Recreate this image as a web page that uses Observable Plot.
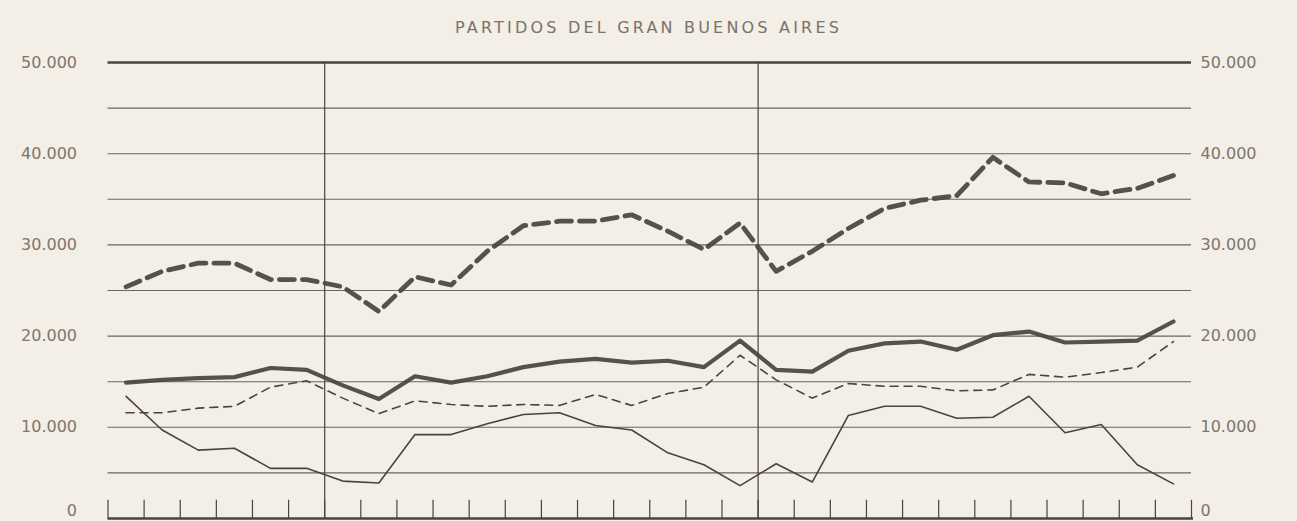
<!DOCTYPE html>
<html>
<head>
<meta charset="utf-8">
<script src="https://cdn.jsdelivr.net/npm/d3@7"></script>
<script src="https://cdn.jsdelivr.net/npm/@observablehq/plot@0.6"></script>
<style>
  html, body { margin: 0; padding: 0; background: #f3eee6; }
  #title {
    height: 20px; padding-top: 20px; line-height: 16px;
    text-align: center; font-family: "DejaVu Sans", sans-serif; font-size: 16px;
    letter-spacing: 3.2px; color: #7a726b;
  }
  #chart svg { background: #f3eee6; display: block; }
</style>
</head>
<body>
<div id="title">PARTIDOS DEL GRAN BUENOS AIRES</div>
<div id="chart"></div>
<script>
// period index (one per interval of the bottom scale)
const periods = [0,1,2,3,4,5,6,7,8,9,10,11,12,13,14,15,16,17,18,19,20,21,22,23,24,25,26,27,28,29];
// series values
const seriesThickDashed = [25400,27100,28000,28000,26200,26200,25400,22700,26500,25600,29300,32100,32600,32600,33300,31500,29500,32400,27100,29300,31800,34000,34900,35400,39600,36900,36800,35600,36200,37600];
const seriesThickSolid  = [14900,15200,15400,15500,16500,16300,14600,13100,15600,14900,15600,16600,17200,17500,17100,17300,16600,19500,16300,16100,18400,19200,19400,18500,20100,20500,19300,19400,19500,21600];
const seriesThinDashed  = [11600,11600,12100,12300,14400,15100,13200,11500,12900,12500,12300,12500,12400,13600,12400,13700,14400,17900,15200,13200,14800,14500,14500,14000,14100,15800,15500,16000,16600,19400];
const seriesThinSolid   = [13400,9700,7500,7700,5500,5500,4100,3900,9200,9200,10400,11400,11600,10200,9700,7200,5900,3600,6000,4000,11300,12300,12300,11000,11100,13400,9400,10300,5900,3800];
// axis ticks
const yLabelTicks = [10000,20000,30000,40000,50000];
const yZeroTick = [0];
const yGrid = [5000,10000,15000,20000,25000,30000,35000,40000,45000];
const xTicks = [0,1,2,3,4,5,6,7,8,9,10,11,12,13,14,15,16,17,18,19,20,21,22,23,24,25,26,27,28,29,30];
const xDividers = [6,18];

const ink = "#4a433e";
const textCol = "#7d756e";
const fmt = d => d === 0 ? "0" : d3.format(",")(d).replace(",", ".");

const mk = arr => periods.map((p, i) => ({x: p + 0.5, y: arr[i]}));

const chart = Plot.plot({
  width: 1297,
  height: 481,
  marginTop: 22,
  marginBottom: 3,
  marginLeft: 107.5,
  marginRight: 106,
  style: {fontFamily: "DejaVu Sans, sans-serif", fontSize: "16px", background: "#f3eee6"},
  x: {domain: [0, 30], axis: null},
  y: {domain: [0, 50000], axis: null},
  marks: [
    Plot.ruleY(yGrid, {stroke: ink, strokeWidth: 1.1, strokeOpacity: 0.8}),
    Plot.ruleY([50000], {stroke: ink, strokeWidth: 2.6}),
    Plot.ruleY([0], {stroke: ink, strokeWidth: 2.6, insetRight: -2}),
    Plot.ruleX(xTicks, {y1: 0, y2: 2000, stroke: ink, strokeWidth: 1.2}),
    Plot.ruleX(xDividers, {y1: 0, y2: 50000, stroke: ink, strokeWidth: 1.2}),
    Plot.line(mk(seriesThinSolid), {x: "x", y: "y", stroke: ink, strokeWidth: 1.6}),
    Plot.line(mk(seriesThinDashed), {x: "x", y: "y", stroke: ink, strokeWidth: 1.6, strokeDasharray: "8,6"}),
    Plot.line(mk(seriesThickSolid), {x: "x", y: "y", stroke: ink, strokeWidth: 4.2, strokeOpacity: 0.92}),
    Plot.line(mk(seriesThickDashed), {x: "x", y: "y", stroke: ink, strokeWidth: 4.8, strokeDasharray: "15,8", strokeOpacity: 0.92}),
    Plot.axisY(yLabelTicks, {anchor: "left", label: null, tickSize: 0, tickPadding: 31, tickFormat: fmt, fill: textCol, fontSize: 16}),
    Plot.axisY(yLabelTicks, {anchor: "right", label: null, tickSize: 0, tickPadding: 9, tickFormat: fmt, fill: textCol, fontSize: 16}),
    Plot.axisY(yZeroTick, {anchor: "left", label: null, tickSize: 0, tickPadding: 31, tickFormat: fmt, fill: textCol, fontSize: 16, dy: -8}),
    Plot.axisY(yZeroTick, {anchor: "right", label: null, tickSize: 0, tickPadding: 9, tickFormat: fmt, fill: textCol, fontSize: 16, dy: -8})
  ]
});
document.getElementById("chart").appendChild(chart);
</script>
</body>
</html>
